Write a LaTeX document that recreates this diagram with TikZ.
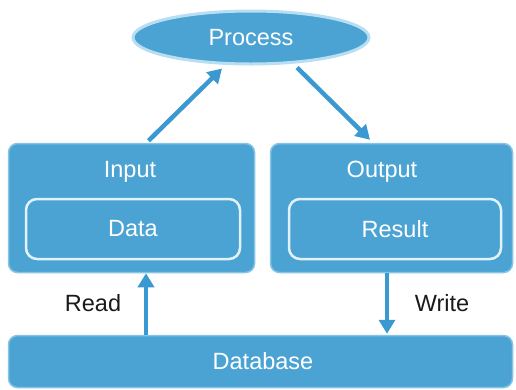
\documentclass[tikz,border=0pt]{standalone}
\usepackage{fontspec}
\setmainfont{Liberation Sans}
\usetikzlibrary{shapes.geometric,arrows.meta,calc}
\definecolor{boxblue}{HTML}{4AA3D3}
\definecolor{edgeblue}{HTML}{86C4E6}
\definecolor{paleblue}{HTML}{B8DEF2}
\definecolor{innerline}{HTML}{E2F2FB}
\definecolor{arrowblue}{HTML}{3B99D2}
\definecolor{labelgray}{HTML}{1A1A1A}
\tikzset{
  x=1pt, y=-1pt,
  every node/.style={font=\fontsize{23.5}{28}\selectfont, inner sep=0pt},
  outerbox/.style={rectangle, rounded corners=9pt, fill=boxblue, draw=edgeblue, line width=1.5pt},
  innerbox/.style={rectangle, rounded corners=11pt, fill=boxblue, draw=innerline, line width=2.5pt, text=white},
  procshape/.style={ellipse, fill=boxblue, draw=paleblue, line width=3pt, text=white},
  boxtitle/.style={text=white},
  sidelabel/.style={text=labelgray},
  flow/.style={draw=arrowblue, line width=4.5pt, -{Triangle[width=16pt,length=14pt]}}
}
\begin{document}
\begin{tikzpicture}
\useasboundingbox (0,0) rectangle (516,389);

% main blocks
\node[procshape, minimum width=236pt, minimum height=53pt] (process) at (251,37.5) {Process};
\node[outerbox, minimum width=246pt, minimum height=129pt] (input) at (131.5,208) {};
\node[outerbox, minimum width=242pt, minimum height=129pt] (output) at (391.5,208) {};
\node[outerbox, minimum width=504pt, minimum height=52pt] (database) at (260.5,361.5) {};
\node[text=white] (dbtitle) at (263,361.5) {Database};

% titles and inner boxes
\node[boxtitle] (intitle) at (130,172) {Input};
\node[boxtitle] (outtitle) at (382,172) {Output};
\node[innerbox, minimum width=214pt, minimum height=60pt] (data) at (133,229) {Data};
\node[innerbox, minimum width=212pt, minimum height=60pt] (result) at (395,229) {Result};

% side labels
\node[sidelabel] (readlbl) at (93,303) {Read};
\node[sidelabel] (writelbl) at (442,303) {Write};

% connectors
\draw[flow] ([xshift=17pt,yshift=2pt]input.north) -- ([xshift=-29pt,yshift=-3pt]process.south);
\draw[flow] ([xshift=46pt,yshift=-2pt]process.south) -- ([xshift=-21.5pt,yshift=3pt]output.north);
\draw[flow] ([xshift=14.5pt]input.south |- database.north) -- ([xshift=14.5pt]input.south);
\draw[flow] ([xshift=-4.5pt]output.south) -- ([xshift=-4.5pt,yshift=1pt]output.south |- database.north);
\end{tikzpicture}
\end{document}
